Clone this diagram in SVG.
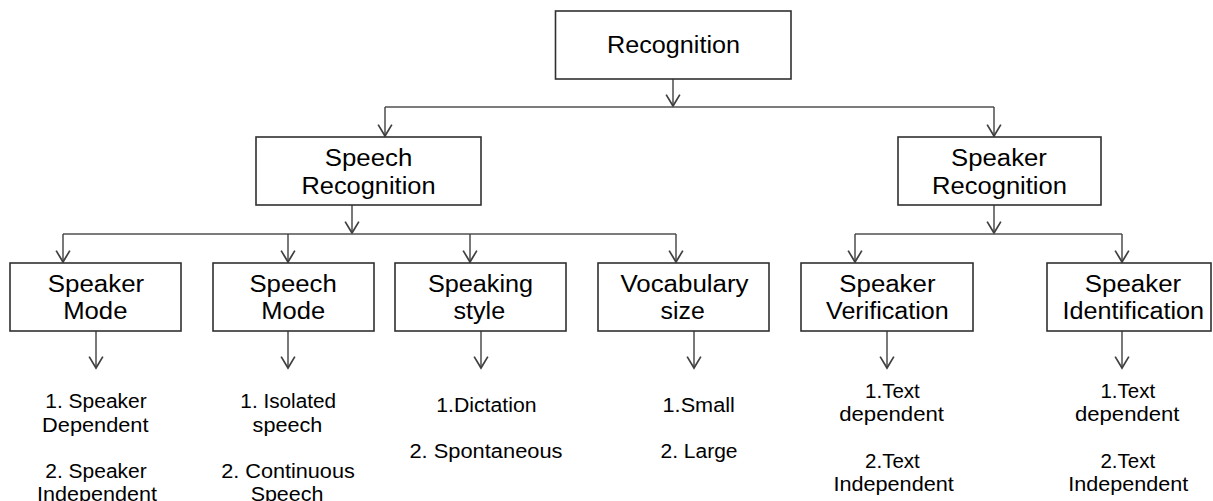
<svg xmlns="http://www.w3.org/2000/svg" width="1213" height="501" viewBox="0 0 1213 501">
<defs>
<marker id="ah" markerUnits="userSpaceOnUse" markerWidth="14" markerHeight="16" refX="11" refY="7" orient="auto" viewBox="0 0 12 14" overflow="visible">
<path d="M1,1 L11,7 L1,13" fill="none" stroke="#404040" stroke-width="1.5"/>
</marker>
<style>
.box{fill:#fff;stroke:#303030;stroke-width:1.6}
.t{font-family:"Liberation Sans",Arial,sans-serif;font-size:23px;fill:#000;text-anchor:middle}
.s{font-family:"Liberation Sans",Arial,sans-serif;font-size:19.5px;fill:#000;text-anchor:middle}
.c{fill:none;stroke:#505050;stroke-width:1.6}
.a{fill:none;stroke:#404040;stroke-width:1.4;marker-end:url(#ah)}
</style>
</defs>
<rect width="1213" height="501" fill="#fff"/>
<g id="connectors">
<line class="a" x1="673" y1="79" x2="673" y2="106"/>
<polyline class="c" points="385,107 994,107"/>
<line class="a" x1="385" y1="107" x2="385" y2="136"/>
<line class="a" x1="994" y1="107" x2="994" y2="136"/>
<line class="a" x1="352" y1="205" x2="352" y2="233"/>
<polyline class="c" points="63,234 676,234"/>
<line class="a" x1="63" y1="234" x2="63" y2="262"/>
<line class="a" x1="288" y1="234" x2="288" y2="262"/>
<line class="a" x1="470" y1="234" x2="470" y2="262"/>
<line class="a" x1="676" y1="234" x2="676" y2="262"/>
<line class="a" x1="994" y1="205" x2="994" y2="233"/>
<polyline class="c" points="855,234 1122,234"/>
<line class="a" x1="855" y1="234" x2="855" y2="262"/>
<line class="a" x1="1122" y1="234" x2="1122" y2="262"/>
<line class="a" x1="96" y1="331" x2="96" y2="368"/>
<line class="a" x1="288" y1="331" x2="288" y2="368"/>
<line class="a" x1="481" y1="331" x2="481" y2="368"/>
<line class="a" x1="694" y1="331" x2="694" y2="368"/>
<line class="a" x1="887" y1="331" x2="887" y2="368"/>
<line class="a" x1="1122" y1="331" x2="1122" y2="368"/>
</g>
<g id="recognition">
<rect class="box" x="555.5" y="11" width="235.5" height="68"/>
<text class="t" x="673.5" y="53" textLength="133" lengthAdjust="spacingAndGlyphs">Recognition</text>
</g>
<g id="speech-recognition">
<rect class="box" x="256" y="137" width="225" height="68"/>
<text class="t" x="368.5" y="166" textLength="87.6" lengthAdjust="spacingAndGlyphs">Speech</text>
<text class="t" x="368.5" y="193.5" textLength="134" lengthAdjust="spacingAndGlyphs">Recognition</text>
</g>
<g id="speaker-recognition">
<rect class="box" x="898" y="137" width="203" height="68"/>
<text class="t" x="999" y="166" textLength="95.8" lengthAdjust="spacingAndGlyphs">Speaker</text>
<text class="t" x="999.5" y="193.5" textLength="134.9" lengthAdjust="spacingAndGlyphs">Recognition</text>
</g>
<g id="speaker-mode">
<rect class="box" x="10" y="263" width="171" height="68"/>
<text class="t" x="96" y="292" textLength="96.4" lengthAdjust="spacingAndGlyphs">Speaker</text>
<text class="t" x="95.3" y="319" textLength="64.3" lengthAdjust="spacingAndGlyphs">Mode</text>
<text class="s" x="96" y="408" textLength="101.4" lengthAdjust="spacingAndGlyphs">1. Speaker</text>
<text class="s" x="95.3" y="432" textLength="106.4" lengthAdjust="spacingAndGlyphs">Dependent</text>
<text class="s" x="96" y="478" textLength="101.4" lengthAdjust="spacingAndGlyphs">2. Speaker</text>
<text class="s" x="97" y="501" textLength="119.8" lengthAdjust="spacingAndGlyphs">Independent</text>
</g>
<g id="speech-mode">
<rect class="box" x="213" y="263" width="161" height="68"/>
<text class="t" x="293.1" y="292" textLength="87.3" lengthAdjust="spacingAndGlyphs">Speech</text>
<text class="t" x="293.3" y="319" textLength="63.9" lengthAdjust="spacingAndGlyphs">Mode</text>
<text class="s" x="288.2" y="408" textLength="95.7" lengthAdjust="spacingAndGlyphs">1. Isolated</text>
<text class="s" x="287.4" y="432" textLength="69.6" lengthAdjust="spacingAndGlyphs">speech</text>
<text class="s" x="288" y="478" textLength="133.6" lengthAdjust="spacingAndGlyphs">2. Continuous</text>
<text class="s" x="287" y="501" textLength="72.7" lengthAdjust="spacingAndGlyphs">Speech</text>
</g>
<g id="speaking-style">
<rect class="box" x="395" y="263" width="171" height="68"/>
<text class="t" x="480.5" y="292" textLength="105.2" lengthAdjust="spacingAndGlyphs">Speaking</text>
<text class="t" x="479.3" y="319" textLength="51.7" lengthAdjust="spacingAndGlyphs">style</text>
<text class="s" x="486.4" y="412" textLength="100.2" lengthAdjust="spacingAndGlyphs">1.Dictation</text>
<text class="s" x="486" y="458" textLength="153.1" lengthAdjust="spacingAndGlyphs">2. Spontaneous</text>
</g>
<g id="vocabulary-size">
<rect class="box" x="598" y="263" width="171" height="68"/>
<text class="t" x="684.5" y="292" textLength="128.2" lengthAdjust="spacingAndGlyphs">Vocabulary</text>
<text class="t" x="682.7" y="319" textLength="44.2" lengthAdjust="spacingAndGlyphs">size</text>
<text class="s" x="698.7" y="412" textLength="72.3" lengthAdjust="spacingAndGlyphs">1.Small</text>
<text class="s" x="699" y="458" textLength="77" lengthAdjust="spacingAndGlyphs">2. Large</text>
</g>
<g id="speaker-verification">
<rect class="box" x="801" y="263" width="172" height="68"/>
<text class="t" x="887.4" y="292" textLength="96.2" lengthAdjust="spacingAndGlyphs">Speaker</text>
<text class="t" x="887.4" y="319" textLength="122.7" lengthAdjust="spacingAndGlyphs">Verification</text>
<text class="s" x="892.4" y="398" textLength="54.7" lengthAdjust="spacingAndGlyphs">1.Text</text>
<text class="s" x="891.6" y="421" textLength="104.8" lengthAdjust="spacingAndGlyphs">dependent</text>
<text class="s" x="892.4" y="468" textLength="54.7" lengthAdjust="spacingAndGlyphs">2.Text</text>
<text class="s" x="893.6" y="491" textLength="120.4" lengthAdjust="spacingAndGlyphs">Independent</text>
</g>
<g id="speaker-identification">
<rect class="box" x="1047" y="263" width="164" height="68"/>
<text class="t" x="1133" y="292" textLength="96.5" lengthAdjust="spacingAndGlyphs">Speaker</text>
<text class="t" x="1133.3" y="319" textLength="141.5" lengthAdjust="spacingAndGlyphs">Identification</text>
<text class="s" x="1127.8" y="398" textLength="54.7" lengthAdjust="spacingAndGlyphs">1.Text</text>
<text class="s" x="1127.2" y="421" textLength="104.4" lengthAdjust="spacingAndGlyphs">dependent</text>
<text class="s" x="1127.8" y="468" textLength="54.7" lengthAdjust="spacingAndGlyphs">2.Text</text>
<text class="s" x="1128.3" y="491" textLength="120" lengthAdjust="spacingAndGlyphs">Independent</text>
</g>
</svg>
